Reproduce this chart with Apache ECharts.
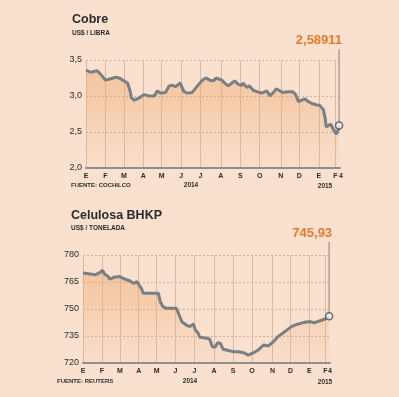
<!DOCTYPE html>
<html lang="es">
<head>
<meta charset="UTF-8">
<title>Cobre y Celulosa BHKP</title>
<script src="https://cdn.jsdelivr.net/npm/echarts@6/dist/echarts.min.js"></script>
<style>
    html, body { margin: 0; padding: 0; background: #f9e0cf; }
    #chart { width: 399px; height: 397px; }
</style>
</head>
<body>
<div id="chart"></div>
<script>
    // eje x: dias habiles desde el 1 de enero de 2014 hasta el 4 de febrero de 2015
    const monthStart = [0, 21, 41, 62, 82, 103, 124, 146, 167, 188, 211, 231, 252, 270];
    const monthLetters = ['E', 'F', 'M', 'A', 'M', 'J', 'J', 'A', 'S', 'O', 'N', 'D', 'E', 'F'];
    const lastDay = 275;
    const lastDayLabel = '4';

    // Cobre, US$ / libra
    const cobreX = [0, 5, 12, 16, 21, 27, 32, 36, 41, 45, 48, 49, 52, 54, 57, 63, 68, 74, 77, 81, 86, 90, 93, 97,
        102, 106, 110, 115, 120, 126, 130, 134, 138, 141, 147, 150, 154, 158, 161, 165, 169, 170, 174, 177,
        181, 185, 190, 196, 199, 203, 206, 210, 213, 219, 224, 227, 230, 233, 237, 241, 244, 250, 253, 257,
        259, 260, 262, 265, 268, 271, 273, 274];
    const cobreY = [3.36, 3.33, 3.35, 3.30, 3.22, 3.24, 3.26, 3.25, 3.21, 3.18, 3.06, 2.98, 2.94, 2.92, 2.97, 3.02,
        3.00, 3.00, 3.07, 3.04, 3.05, 3.14, 3.15, 3.13, 3.18, 3.06, 3.04, 3.05, 3.13, 3.22, 3.25, 3.22, 3.21,
        3.25, 3.22, 3.18, 3.14, 3.18, 3.21, 3.16, 3.15, 3.18, 3.12, 3.14, 3.08, 3.06, 3.04, 3.07, 3.00, 3.05,
        3.10, 3.07, 3.05, 3.06, 3.06, 3.02, 2.92, 2.94, 2.96, 2.92, 2.90, 2.875, 2.87, 2.81, 2.69, 2.57, 2.59,
        2.61, 2.53, 2.47, 2.53, 2.58911];

    // Celulosa BHKP, US$ / tonelada
    const celX = [0, 8, 13, 18, 22, 24, 28, 30, 34, 41, 47, 52, 56, 60, 63, 65, 67, 75, 84, 86, 89, 93, 104, 107,
        110, 115, 119, 123, 125, 128, 130, 138, 141, 144, 147, 150, 153, 156, 162, 167, 173, 179, 184, 190,
        195, 201, 206, 212, 217, 223, 228, 232, 236, 242, 247, 253, 258, 264, 269, 274];
    const celY = [770, 769.5, 769, 770, 771.5, 769.4, 768, 766.5, 767.6, 768, 766.5, 765.7, 764.3, 765.2, 762.8,
        761.5, 758.7, 758.7, 758.7, 754, 751.3, 750.4, 750.4, 746.7, 743, 741.1, 740.2, 741.7, 738.3, 736.8,
        734.3, 733.7, 733.3, 729, 728.7, 731.3, 730.9, 727.6, 726.9, 726.3, 726.3, 725.7, 724.4, 725.7, 727.2,
        730, 729.4, 731.8, 734.6, 736.8, 738.7, 740.2, 741.1, 742, 742.6, 743, 742.4, 743.5, 744.3, 745.93];

    const cobreLabel = '2,58911';
    const celLabel = '745,93';

    const zip = (xs, ys) => xs.map((x, i) => [x, ys[i]]);
    const comma = (v, d) => v.toFixed(d).replace('.', ',');

    const dark = '#2b2b2b';
    const orange = '#e47a2e';
    const font = 'Liberation Sans';

    function xAxisFor(gridIndex) {
        return {
            type: 'value', gridIndex: gridIndex, min: 0, max: lastDay,
            axisLine: { show: true, lineStyle: { color: '#8e8e8e', width: 2 } },
            axisTick: { show: false, customValues: monthStart },
            splitLine: { show: true, lineStyle: { color: '#d9bba4', width: 1 } },
            axisLabel: {
                customValues: monthStart,
                margin: 5, fontSize: 7, fontWeight: 'bold', color: dark, fontFamily: font,
                formatter: v => monthLetters[monthStart.indexOf(v)]
            }
        };
    }

    function yAxisFor(gridIndex, min, max, step, dec) {
        return {
            type: 'value', gridIndex: gridIndex, min: min, max: max, interval: step,
            axisLine: { show: false }, axisTick: { show: false },
            splitLine: { lineStyle: { color: '#c9b2a2', type: [2, 2], width: 1 } },
            axisLabel: {
                margin: 4, fontSize: 9, color: dark, fontFamily: font,
                formatter: v => comma(v, dec)
            }
        };
    }

    function lineSeries(idx, data) {
        return {
            type: 'line', xAxisIndex: idx, yAxisIndex: idx, data: data,
            showSymbol: false, smooth: false,
            lineStyle: { color: '#797f83', width: 3 },
            areaStyle: {
                color: new echarts.graphic.LinearGradient(0, 0, 0, 1, [
                    { offset: 0, color: 'rgba(238,165,102,0.68)' },
                    { offset: 1, color: 'rgba(238,165,102,0.04)' }
                ])
            },
            z: 3
        };
    }

    function endPoint(idx, point) {
        return {
            type: 'scatter', xAxisIndex: idx, yAxisIndex: idx, data: [point],
            symbol: 'circle', symbolSize: 7,
            itemStyle: { color: '#fdf3ec', borderColor: '#3f4f5c', borderWidth: 1.5 },
            z: 5
        };
    }

    function txt(x, y, text, size, color, weight, align) {
        return {
            type: 'text', x: x, y: y,
            style: { text: text, fill: color || dark, fontSize: size, fontWeight: weight || 'bold',
                fontFamily: font, align: align || 'left', verticalAlign: 'top' }
        };
    }

    const chart = echarts.init(document.getElementById('chart'), null, { renderer: 'canvas' });
    const cobreData = zip(cobreX, cobreY);
    const celData = zip(celX, celY);

    chart.setOption({
        backgroundColor: '#f9e0cf',
        animation: false,
        grid: [
            { left: 86, top: 60, width: 254, height: 108 },
            { left: 83, top: 255, width: 247, height: 108 }
        ],
        xAxis: [xAxisFor(0), xAxisFor(1)],
        yAxis: [yAxisFor(0, 2, 3.5, 0.5, 1), yAxisFor(1, 720, 780, 15, 0)],
        series: [
            lineSeries(0, cobreData),
            endPoint(0, cobreData[cobreData.length - 1]),
            lineSeries(1, celData),
            endPoint(1, celData[celData.length - 1])
        ]
    });

    // anotaciones: valor final con linea vertical, y el dia final en el eje
    const p0 = chart.convertToPixel({ xAxisIndex: 0, yAxisIndex: 0 }, cobreData[cobreData.length - 1]);
    const p1 = chart.convertToPixel({ xAxisIndex: 1, yAxisIndex: 1 }, celData[celData.length - 1]);
    const e0 = chart.convertToPixel({ xAxisIndex: 0, yAxisIndex: 0 }, [lastDay, 2]);
    const e1 = chart.convertToPixel({ xAxisIndex: 1, yAxisIndex: 1 }, [lastDay, 720]);

    chart.setOption({
        graphic: [
            txt(72, 13, 'Cobre', 12.5),
            txt(72, 30, 'US$ / LIBRA', 6.5),
            txt(71, 182, 'FUENTE: COCHILCO', 6),
            txt(191, 182, '2014', 6.5, dark, 'bold', 'center'),
            txt(325, 183, '2015', 6.5, dark, 'bold', 'center'),
            txt(e0[0] + 1, e0[1] + 5, lastDayLabel, 7, dark, 'bold', 'center'),
            { type: 'line', shape: { x1: p0[0], y1: 49, x2: p0[0], y2: p0[1] - 3.5 },
                style: { stroke: '#8a7f78', lineWidth: 1 }, z: 4 },
            txt(p0[0] + 3, 34, cobreLabel, 13, orange, 'bold', 'right'),

            txt(71, 209, 'Celulosa BHKP', 12.5),
            txt(71, 225, 'US$ / TONELADA', 6.5),
            txt(57, 378, 'FUENTE: REUTERS', 6),
            txt(190, 378, '2014', 6.5, dark, 'bold', 'center'),
            txt(325, 379, '2015', 6.5, dark, 'bold', 'center'),
            txt(e1[0], e1[1] + 5, lastDayLabel, 7, dark, 'bold', 'center'),
            { type: 'line', shape: { x1: p1[0], y1: 242, x2: p1[0], y2: p1[1] - 3.5 },
                style: { stroke: '#8a7f78', lineWidth: 1 }, z: 4 },
            txt(p1[0] + 3, 227, celLabel, 13, orange, 'bold', 'right')
        ]
    });
</script>
</body>
</html>
